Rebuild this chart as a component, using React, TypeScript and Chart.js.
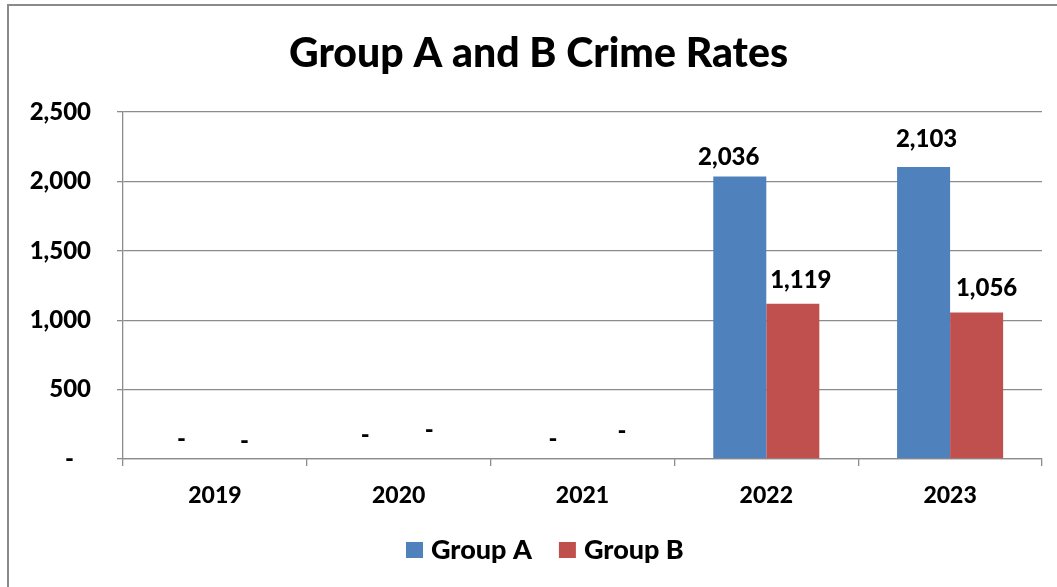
import { useEffect, useRef } from "react";
import { Chart, registerables } from "chart.js";

Chart.register(...registerables);

const chartTitle = "Group A and B Crime Rates";
const categories = ["2019", "2020", "2021", "2022", "2023"];
const seriesNames = ["Group A", "Group B"];
const groupA = [0, 0, 0, 2036, 2103];
const groupB = [0, 0, 0, 1119, 1056];
const yMin = 0;
const yMax = 2500;
const yStep = 500;

const COLORS = ["#4F81BD", "#C0504D"];
const FONT = "Lato, 'Open Sans', 'DejaVu Sans', sans-serif";
const WEIGHT = "900";
const GRID = "#8c8c8c";
// small [dx, dy] nudges of the value labels, per series and category
const labelNudge = [
  [[-7, 3], [-7, -1], [-3, 3], [-11, 4], [3, -5]],
  [[3, 5], [4, -6], [13, -5], [8, -1], [10, -1]],
];

const fmt = (v: number) => (v === 0 ? "-" : v.toLocaleString("en-US"));

const decor = {
  id: "decor",
  afterDatasetsDraw(chart: any) {
    const ctx = chart.ctx as CanvasRenderingContext2D;
    ctx.save();
    ctx.font = `${WEIGHT} 24px ${FONT}`;
    ctx.fillStyle = "#000";
    ctx.textAlign = "center";
    ctx.textBaseline = "alphabetic";
    chart.data.datasets.forEach((ds: any, di: number) => {
      const meta = chart.getDatasetMeta(di);
      meta.data.forEach((bar: any, i: number) => {
        const v = ds.data[i] as number;
        const [dx, dy] = labelNudge[di][i];
        ctx.fillText(fmt(v), bar.x + dx, bar.y - 15 + dy);
      });
    });
    ctx.restore();
  },
  afterDraw(chart: any) {
    const ctx = chart.ctx as CanvasRenderingContext2D;
    ctx.save();
    // outer chart border
    ctx.strokeStyle = "#8a8a8a";
    ctx.lineWidth = 2;
    ctx.strokeRect(8, 5, chart.width + 50, chart.height + 50);
    // title
    ctx.fillStyle = "#000";
    ctx.font = `${WEIGHT} 41px ${FONT}`;
    ctx.textAlign = "center";
    ctx.textBaseline = "alphabetic";
    ctx.fillText(chartTitle, 538.5, 67);
    // legend
    ctx.font = `${WEIGHT} 27px ${FONT}`;
    ctx.textAlign = "left";
    let x = 406;
    seriesNames.forEach((name, i) => {
      ctx.fillStyle = COLORS[i];
      ctx.fillRect(x, 542, 17, 16);
      x += 25;
      ctx.fillStyle = "#000";
      ctx.fillText(name, x, 559);
      x += ctx.measureText(name).width + 27;
    });
    ctx.restore();
  },
};

export default function App() {
  const ref = useRef<HTMLCanvasElement | null>(null);
  useEffect(() => {
    if (!ref.current) return;
    Chart.defaults.font.family = FONT;
    const chart = new Chart(ref.current, {
      type: "bar",
      data: {
        labels: categories,
        datasets: [
          { label: seriesNames[0], data: groupA, backgroundColor: COLORS[0] },
          { label: seriesNames[1], data: groupB, backgroundColor: COLORS[1] },
        ],
      },
      options: {
        animation: false,
        responsive: true,
        maintainAspectRatio: false,
        layout: { padding: { left: 0, top: 112, right: 15, bottom: 68 } },
        datasets: { bar: { categoryPercentage: 0.577, barPercentage: 1.0 } },
        plugins: {
          legend: { display: false },
          title: { display: false },
          tooltip: { enabled: false },
        },
        scales: {
          x: {
            offset: true,
            grid: {
              offset: true,
              drawOnChartArea: false,
              drawTicks: true,
              tickLength: 7,
              color: GRID,
              lineWidth: 1.3,
            },
            border: { color: GRID, width: 1.3 },
            ticks: {
              color: "#000",
              font: { size: 23, weight: WEIGHT as any },
              padding: 16,
            },
            afterFit(scale: any) {
              scale.height = 60;
            },
          },
          y: {
            min: yMin,
            max: yMax,
            ticks: {
              stepSize: yStep,
              color: "#000",
              font: { size: 24, weight: WEIGHT as any },
              padding: 26,
              callback: (v: any) => (Number(v) === 0 ? "-   " : Number(v).toLocaleString("en-US")),
            },
            grid: { color: GRID, lineWidth: 1.3, tickLength: 6, drawTicks: true },
            border: { color: GRID, width: 1.3 },
            afterFit(scale: any) {
              scale.width = 123;
            },
          },
        },
      },
      plugins: [decor],
    });
    return () => chart.destroy();
  }, []);
  return (
    <div style={{ position: "fixed", left: 0, top: 0, width: 1057, height: 587, background: "#fff" }}>
      <canvas ref={ref} />
    </div>
  );
}
